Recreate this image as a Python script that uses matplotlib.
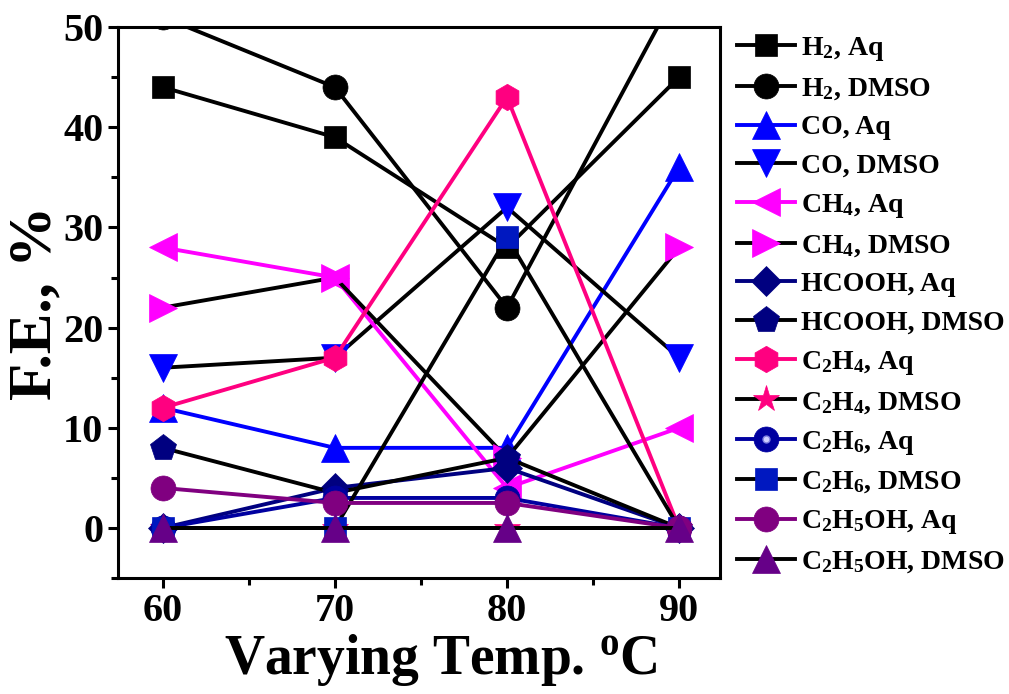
import matplotlib
matplotlib.use('Agg')
import matplotlib.pyplot as plt
from matplotlib.ticker import MultipleLocator
from matplotlib.legend_handler import HandlerTuple

plt.rcParams['font.family'] = 'Liberation Serif'
plt.rcParams['font.weight'] = 'bold'
plt.rcParams['axes.labelweight'] = 'bold'
plt.rcParams['mathtext.fontset'] = 'custom'
plt.rcParams['mathtext.rm'] = 'Liberation Serif:bold'
plt.rcParams['mathtext.it'] = 'Liberation Serif:bold'
plt.rcParams['mathtext.bf'] = 'Liberation Serif:bold'

temps = [60, 70, 80, 90]

h2_aq = [44, 39, 28, 45]
h2_dmso = [51, 44, 22, 54]
co_aq = [12, 8, 8, 36]
co_dmso = [16, 17, 32, 17]
ch4_aq = [28, 25, 4, 10]
ch4_dmso = [22, 25, 7, 28]
hcooh_aq = [0, 4, 6, 0]
hcooh_dmso = [8, 3.5, 7, 0]
c2h4_aq = [12, 17, 43, 0]
c2h4_dmso = [0, 0, 0, 0]
c2h6_aq = [0, 3, 3, 0]
c2h6_dmso = [0, 0, 29, 0]
c2h5oh_aq = [4, 2.5, 2.5, 0]
c2h5oh_dmso = [0, 0, 0, 0]

labels = ['H$_2$, Aq', 'H$_2$, DMSO', 'CO, Aq', 'CO, DMSO', 'CH$_4$, Aq', 'CH$_4$, DMSO',
          'HCOOH, Aq', 'HCOOH, DMSO', 'C$_2$H$_4$, Aq', 'C$_2$H$_4$, DMSO',
          'C$_2$H$_6$, Aq', 'C$_2$H$_6$, DMSO', 'C$_2$H$_5$OH, Aq', 'C$_2$H$_5$OH, DMSO']

# (values, marker, marker colour, line colour, marker size)
series = [
    (h2_aq, 's', 'black', 'black', 16),
    (h2_dmso, 'o', 'black', 'black', 18),
    (co_aq, '^', '#0000ff', '#0000ff', 20),
    (co_dmso, 'v', '#0000ff', 'black', 20),
    (ch4_aq, '<', '#ff00ff', '#ff00ff', 20),
    (ch4_dmso, '>', '#ff00ff', 'black', 20),
    (hcooh_aq, 'D', '#000080', '#000080', 15),
    (hcooh_dmso, 'p', '#000080', 'black', 20),
    (c2h4_aq, 'h', '#ff0080', '#ff0080', 19),
    (c2h4_dmso, '*', '#ff0080', 'black', 20),
    (c2h6_aq, 'o', '#0000a0', '#0000a0', 18),
    (c2h6_dmso, 's', '#0018c0', 'black', 16),
    (c2h5oh_aq, 'o', '#800080', '#800080', 18),
    (c2h5oh_dmso, '^', '#660088', 'black', 20),
]

fig = plt.figure(figsize=(10.09, 6.94), dpi=100)
ax = fig.add_axes([0.117, 0.167, 0.597, 0.794])

handles = []
for (vals, mk, mc, lc, ms), lab in zip(series, labels):
    ln, = ax.plot(temps, vals, color=lc, lw=2.8, marker=mk, ms=ms,
                  markerfacecolor=mc, markeredgecolor=mc, markeredgewidth=0.5)
    if lab == 'C$_2$H$_6$, Aq':
        # little highlight on the sphere symbol
        shine, = ax.plot(temps, vals, ls='none', marker='o', ms=5,
                         markerfacecolor='#d0d0ff', markeredgecolor='#8080e0',
                         markeredgewidth=1)
        handles.append((ln, shine))
    else:
        handles.append(ln)

ax.set_xlim(57.4, 92.4)
ax.set_ylim(-5, 50)
ax.xaxis.set_major_locator(MultipleLocator(10))
ax.xaxis.set_minor_locator(MultipleLocator(5))
ax.yaxis.set_major_locator(MultipleLocator(10))
ax.yaxis.set_minor_locator(MultipleLocator(5))
ax.tick_params(which='both', direction='out', width=2.2, labelsize=29, top=False, right=False)
ax.tick_params(which='major', length=7)
ax.tick_params(which='minor', length=5)
for s in ax.spines.values():
    s.set_linewidth(2.2)

ax.set_xlabel('Varying Temp. $^{o}$C', fontsize=40)
ax.xaxis.set_label_coords(0.535, -0.097, transform=ax.transAxes)
ax.xaxis.label.set_va('top')
ax.set_ylabel('F.E., %', fontsize=44, labelpad=0)

ax.legend(handles, labels, loc='upper left', bbox_to_anchor=(1.0, 1.016),
          frameon=False, fontsize=20, handlelength=2.1, handletextpad=0.2,
          labelspacing=0.47, borderaxespad=0.5, borderpad=0.1,
          handler_map={tuple: HandlerTuple(ndivide=1, pad=0)})

fig.savefig('out.png', dpi=100)
